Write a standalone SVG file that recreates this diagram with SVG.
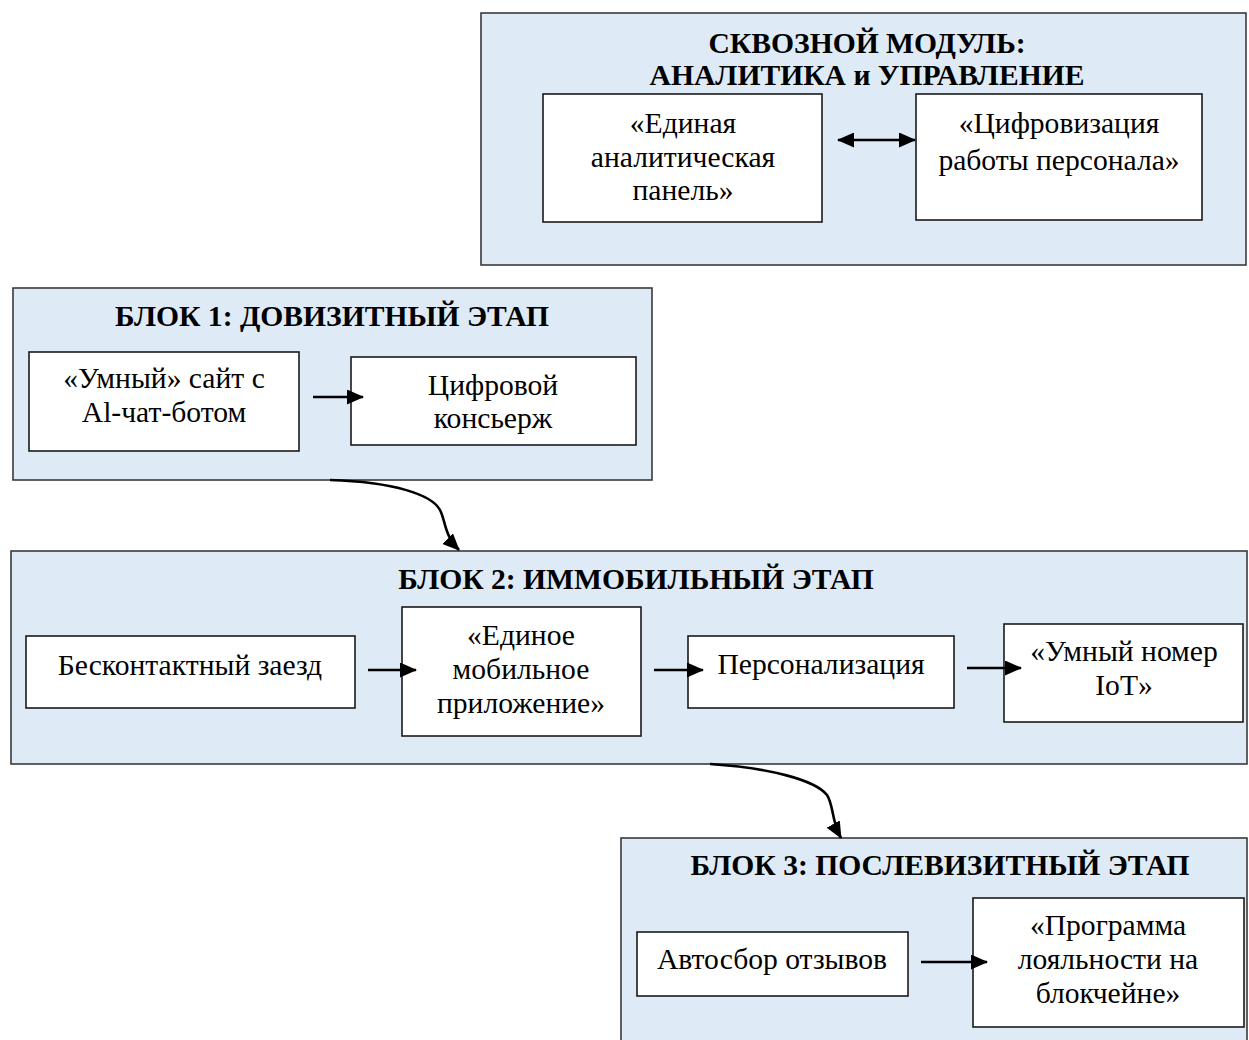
<svg xmlns="http://www.w3.org/2000/svg" width="1249" height="1040" viewBox="0 0 1249 1040">
<style>
  .cont { fill: #DEEAF6; stroke: #3a3a3a; stroke-width: 1.6; }
  .box { fill: #ffffff; stroke: #1a1a1a; stroke-width: 1.6; }
  .title { font-family: "Liberation Serif", "Times New Roman", serif; font-weight: bold; font-size: 29.6px; fill: #000; text-anchor: middle; }
  .lbl { font-family: "Liberation Serif", "Times New Roman", serif; font-size: 29.6px; fill: #000; text-anchor: middle; }
  .conn { fill: none; stroke: #000; stroke-width: 2.6; }
</style>
<defs>
  <marker id="ah" markerUnits="userSpaceOnUse" viewBox="0 0 17 15" refX="16" refY="7.5" markerWidth="17" markerHeight="15" orient="auto-start-reverse">
    <path d="M0,0 L17,7.5 L0,15 z" fill="#000"/>
  </marker>
</defs>

<g id="module-analytics">
  <rect class="cont" x="481" y="13" width="765" height="252"/>
  <text class="title" x="867" y="53">СКВОЗНОЙ МОДУЛЬ:</text>
  <text class="title" x="867" y="85">АНАЛИТИКА и УПРАВЛЕНИЕ</text>
</g>
<g id="block1">
  <rect class="cont" x="13" y="288" width="639" height="192"/>
  <text class="title" x="332" y="326">БЛОК 1: ДОВИЗИТНЫЙ ЭТАП</text>
</g>
<g id="block2">
  <rect class="cont" x="11" y="551" width="1236" height="213"/>
  <text class="title" x="636" y="589">БЛОК 2: ИММОБИЛЬНЫЙ ЭТАП</text>
</g>
<g id="block3">
  <rect class="cont" x="621" y="838" width="626" height="210"/>
  <text class="title" x="940" y="875">БЛОК 3: ПОСЛЕВИЗИТНЫЙ ЭТАП</text>
</g>

<g id="n-dashboard">
  <rect class="box" x="543" y="94" width="279" height="128"/>
  <text class="lbl" x="683" y="133">«Единая</text>
  <text class="lbl" x="683" y="167">аналитическая</text>
  <text class="lbl" x="683" y="200">панель»</text>
</g>
<g id="n-staff">
  <rect class="box" x="916" y="94" width="286" height="126"/>
  <text class="lbl" x="1059" y="133">«Цифровизация</text>
  <text class="lbl" x="1059" y="170">работы персонала»</text>
</g>
<g id="n-smartsite">
  <rect class="box" x="29" y="352" width="270" height="99"/>
  <text class="lbl" x="164" y="388">«Умный» сайт с</text>
  <text class="lbl" x="164" y="422">Al-чат-ботом</text>
</g>
<g id="n-concierge">
  <rect class="box" x="351" y="357" width="285" height="88"/>
  <text class="lbl" x="493" y="395">Цифровой</text>
  <text class="lbl" x="493" y="428">консьерж</text>
</g>
<g id="n-checkin">
  <rect class="box" x="26" y="636" width="329" height="72"/>
  <text class="lbl" x="190" y="675">Бесконтактный заезд</text>
</g>
<g id="n-mobileapp">
  <rect class="box" x="402" y="607" width="239" height="129"/>
  <text class="lbl" x="521" y="645">«Единое</text>
  <text class="lbl" x="521" y="679">мобильное</text>
  <text class="lbl" x="521" y="713">приложение»</text>
</g>
<g id="n-personal">
  <rect class="box" x="688" y="636" width="266" height="72"/>
  <text class="lbl" x="821" y="674">Персонализация</text>
</g>
<g id="n-smartroom">
  <rect class="box" x="1004" y="624" width="239" height="98"/>
  <text class="lbl" x="1124" y="661">«Умный номер</text>
  <text class="lbl" x="1124" y="695">IoT»</text>
</g>
<g id="n-reviews">
  <rect class="box" x="637" y="932" width="271" height="64"/>
  <text class="lbl" x="772" y="969">Автосбор отзывов</text>
</g>
<g id="n-loyalty">
  <rect class="box" x="973" y="898" width="271" height="129"/>
  <text class="lbl" x="1108" y="935">«Программа</text>
  <text class="lbl" x="1108" y="969">лояльности на</text>
  <text class="lbl" x="1108" y="1003">блокчейне»</text>
</g>

<g id="connectors">
  <path class="conn" d="M838,140 L915,140" marker-start="url(#ah)" marker-end="url(#ah)"/>
  <path class="conn" d="M313,397 L363,397" marker-end="url(#ah)"/>
  <path class="conn" d="M368,670 L416,670" marker-end="url(#ah)"/>
  <path class="conn" d="M654,670 L703,670" marker-end="url(#ah)"/>
  <path class="conn" d="M967,668 L1021,668" marker-end="url(#ah)"/>
  <path class="conn" d="M921,962 L987,962" marker-end="url(#ah)"/>
  <path class="conn" d="M330,480 C395,482 432,495 440,510 C446,522 444,535 459,550" marker-end="url(#ah)"/>
  <path class="conn" d="M710,764 C770,768 815,780 827,795 C834,806 831,820 841,838" marker-end="url(#ah)"/>
</g>
</svg>
